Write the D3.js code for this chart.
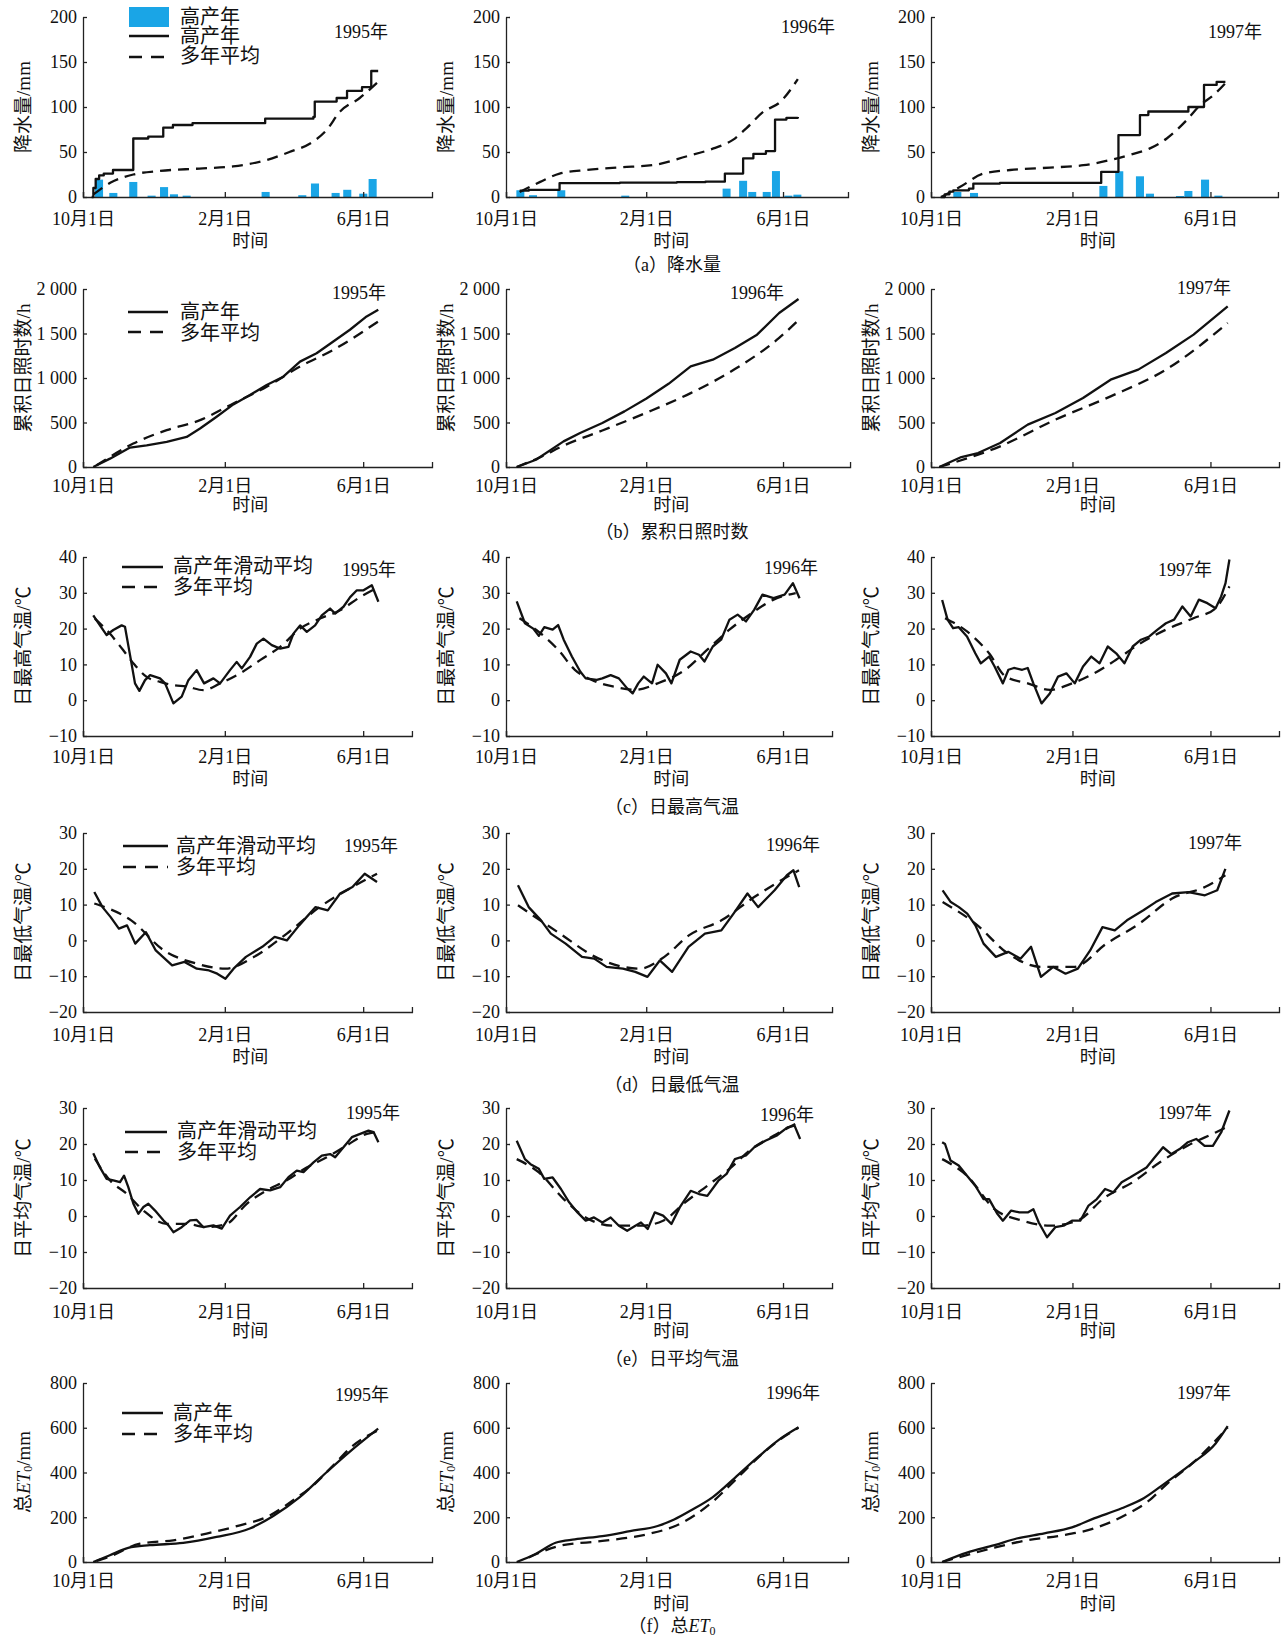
<!DOCTYPE html>
<html><head><meta charset="utf-8">
<script src="https://cdn.jsdelivr.net/npm/d3@7"></script>
<style>
body{margin:0;background:#fff}
svg{display:block}
text{font-family:"Liberation Serif","Times New Roman","Noto Sans CJK SC",serif;fill:#111}
</style>
</head><body>
<svg id="c" width="1285" height="1645"></svg>
<script>
// ---------- categories / tick labels ----------
const monthTickDays = [0, 123, 243];            // days after 10月1日
const monthTickLabels = ["10月1日", "2月1日", "6月1日"];
const years = ["1995年", "1996年", "1997年"];
const yTicksPrecip = [0, 50, 100, 150, 200];
const yTicksSun = [0, 500, 1000, 1500, 2000];
const yTicksTmax = [-10, 0, 10, 20, 30, 40];
const yTicksTmin = [-20, -10, 0, 10, 20, 30];
const yTicksTavg = [-20, -10, 0, 10, 20, 30];
const yTicksEt = [0, 200, 400, 600, 800];
const yLabels = ["降水量/mm", "累积日照时数/h", "日最高气温/℃", "日最低气温/℃", "日平均气温/℃", "总ET0/mm"];
const captions = ["（a）降水量", "（b）累积日照时数", "（c）日最高气温", "（d）日最低气温", "（e）日平均气温", "（f）总ET0"];
const xTitle = "时间";

// ---------- (a) precipitation: [day, mm] ----------
const precipBars1995 = [[13.9,19.3],[26.3,4.5],[43.6,16.7],[59.5,1.5],[70.3,11],[78.9,3],[89.9,1.5],[158.4,5.6],[190.2,2],[201.2,15],[219.1,4.5],[229.2,8],[243.1,3.7],[251.2,20]];
const precipCum1995 = [[7.5,0],[9,10],[11,20],[14,24],[18,26],[26,30],[43.6,65],[56.6,67],[69.6,77],[78,80],[95,82],[158,87],[199.8,89],[201,106],[220,110],[229,118],[242,122],[250,140],[256,140]];
const precipAvg1995 = [[9,3],[24,16],[43.6,25],[66.7,29],[101,31.6],[130,34],[159,41],[179,50],[197,59.5],[211,74],[223,95],[240,110],[256,128]];
const precipBars1996 = [[12.6,7.5],[23.7,2],[48.5,7.5],[104.6,1.5],[193.5,9.3],[208,18],[216,5.6],[228.7,5.6],[236.8,28.8],[247.7,1.5],[255.6,2.6]];
const precipCum1996 = [[12,7],[20,8],[47,15.5],[100,16],[150,16.5],[175,17],[192,26],[208,43],[217,48],[228,51],[236,86],[246,88],[256,89]];
const precipAvg1996 = [[12,5.6],[30,16.8],[47,26],[71,30],[100,33],[129,35.5],[158,45],[182,54],[199,63.5],[211,76.6],[226,95],[240,105],[256,131]];
const precipBars1997 = [[22.9,5.6],[37.4,4.5],[149.9,12.3],[163.7,28.6],[181.7,23],[190.4,3.7],[216.5,1.1],[223.8,6.7],[238.3,19.3],[249.9,1.5]];
const precipCum1997 = [[8.4,0],[12,3],[16,6],[19.4,7.4],[33,9.3],[36.8,14.9],[60,15.6],[148,28],[163,68.8],[181.7,91],[189,95],[223.8,100],[237.4,124.5],[248.4,128],[256,128]];
const precipAvg1997 = [[9,0],[25,11],[45.6,26],[68.8,30],[103.5,32.7],[132.5,35.3],[155.7,41],[176,48],[190.4,54],[205,65],[222.4,85.5],[234,102],[245.5,113],[257,128]];

// ---------- (b) cumulative sunshine hours ----------
const sunHigh1995 = [[8.9,0],[23.4,94],[40.8,218],[55.2,244],[72.6,282],[89.9,338],[101.5,432],[115.9,564],[130.4,703],[144.8,808],[159.3,921],[173.7,1015],[188.2,1184],[202.6,1278],[217.1,1410],[231.5,1542],[246,1692],[256.1,1767]];
const sunAvg1995 = [[11.8,19],[43.6,263],[72.6,414],[101.5,526],[130.4,714],[159.3,902],[188.2,1128],[217.1,1316],[256.1,1636]];
const sunHigh1996 = [[9.4,0],[26.3,82],[50.5,288],[65,382],[84.5,494],[103.9,625],[123.2,770],[142.6,935],[162,1131],[181.4,1206],[200.8,1337],[220.2,1487],[239.6,1730],[256.6,1887]];
const sunAvg1996 = [[9.4,0],[30,110],[50.5,240],[84.5,410],[123.2,610],[162,830],[200.8,1100],[239.6,1450],[256.6,1650]];
const sunHigh1997 = [[7.2,0],[26.4,112],[40.9,157],[60.1,270],[84.1,476],[108.2,607],[132.2,775],[156.2,981],[180.2,1094],[204.3,1281],[228.3,1487],[258,1805]];
const sunAvg1997 = [[7.2,0],[60.1,232],[108.2,532],[156.2,794],[204.3,1094],[258,1618]];

// ---------- (c) daily max temperature ----------
const tmaxHigh1995 = [[8.9,23.7],[14.7,20.9],[20.5,18.2],[26.3,19.6],[33.5,20.9],[36.4,20.5],[40.8,12.6],[45.1,4.7],[48.9,2.6],[53.8,5.6],[58.2,7],[66.8,6.1],[71.2,4.7],[78.4,-0.9],[85.6,1],[91.4,5.6],[98.6,8.4],[105,4.7],[113.1,6.1],[118.9,4.7],[127.5,8.4],[133.3,10.7],[137.7,8.9],[144.9,12.1],[150.7,15.8],[156.5,17.2],[163.7,15.4],[171,14.4],[178.2,14.9],[182.5,18.6],[188.3,20.9],[194.1,19.1],[201.3,20.9],[207.1,23.7],[214.3,25.6],[218.7,24.2],[225.9,26.1],[231.7,28.8],[237.5,30.7],[243.3,30.7],[250.5,32.1],[256.2,27.5]];
const tmaxAvg1995 = [[10.3,22.8],[23.3,18.6],[34.8,14],[45,9.8],[55.2,6.5],[66.8,5.1],[78.4,4.2],[89.9,3.8],[104.4,2.8],[118.9,4.7],[136.2,7.5],[153.6,11.2],[171,14.9],[188.3,20],[205.6,22.8],[223,25.1],[240.3,28.8],[256.2,31.6]];
const tmaxHigh1996 = [[9.4,27.6],[16.6,21.5],[23.9,20],[28.8,18],[33.6,20.4],[40.9,19.7],[45.7,21],[50.6,16.9],[57.8,12.2],[65.1,8],[69.9,6.1],[79.6,5.7],[84.5,6.1],[91.8,7],[99,6.1],[106.3,3.3],[111.1,1.9],[116,4.7],[120.9,6.6],[128.1,4.7],[133,9.9],[140.3,7.5],[145.1,4.7],[152.4,11.3],[162,13.6],[169.3,12.7],[174.1,10.8],[181.4,15],[188.7,16.9],[196,22.5],[203.2,23.9],[210.5,22],[217.8,25.3],[225,29.5],[234.7,28.5],[244.4,29.5],[251.7,32.7],[257.5,28.5]];
const tmaxAvg1996 = [[11.8,22.9],[26.3,19.7],[45.7,14.1],[60.4,8.5],[74.9,5.7],[94.2,3.8],[113.5,2.9],[133,4.7],[157.2,8.5],[176.6,14.1],[196,19.7],[215.4,24.3],[234.7,28.1],[254.1,29.9]];
const tmaxHigh1997 = [[9.7,28],[14.4,22.5],[19.2,20.1],[24.1,20.4],[31.3,17.8],[38.5,13.1],[43.3,10.3],[50.5,12.2],[55.3,9.4],[62.5,4.7],[67.3,8.5],[72.1,9],[79.3,8.5],[84.1,9],[89,4.7],[96.1,-0.9],[103.3,1.9],[110.5,6.6],[117.7,7.5],[125,4.7],[132.2,9.4],[139.4,12.2],[146.6,10.3],[153.7,15],[161,13.1],[168.2,10.3],[175.4,15],[182.6,16.9],[189.8,17.8],[197,19.7],[204.3,21.5],[211.4,22.5],[218.6,26.2],[225.8,23.4],[233,28.1],[240.3,27.1],[247.5,25.7],[252.3,29],[256.1,32.7],[259.5,39.3]];
const tmaxAvg1997 = [[12.2,22.9],[31.3,19.2],[50.5,13.1],[64.9,6.6],[84.1,4.7],[103.3,2.9],[122.6,4.7],[141.8,7.5],[161,11.3],[180.2,15.5],[204.3,19.7],[228.2,22.9],[247.5,25.7],[259.5,31.8]];

// ---------- (d) daily min temperature ----------
const tminHigh1995 = [[9.8,13.5],[16.9,9.3],[24,6.5],[31.1,3.3],[38.2,4.2],[45.3,-0.9],[54.5,2.3],[63.1,-2.8],[77.3,-7],[88,-6],[98.7,-7.9],[109.3,-8.4],[116.4,-9.3],[123.5,-10.7],[130.6,-7.9],[141.3,-4.6],[155.5,-1.8],[166.2,1],[176.8,0],[187.5,4.2],[201.7,9.3],[212.3,8.4],[223,13.1],[233.7,14.9],[244.3,18.6],[255,16.3]];
const tminAvg1995 = [[9.8,10.3],[41.8,5.6],[70.2,-2.8],[98.7,-6.5],[123.5,-7.9],[148.4,-4.6],[176.8,1.9],[205.2,9.3],[233.7,14.9],[255,18.6]];
const tminHigh1996 = [[10.5,15.4],[19.9,9.3],[30.7,5.6],[39.3,1.9],[52.3,-0.9],[66.7,-4.6],[77.4,-5.1],[88.2,-7.4],[102.6,-7.9],[113.4,-8.8],[124.1,-10.2],[134.9,-5.6],[145.7,-8.8],[160.1,-1.8],[174.5,1.9],[188.9,2.8],[199.6,7.5],[211.8,13.1],[221.2,9.3],[235.6,14],[246.4,18.2],[252.1,19.6],[257.2,14.9]];
const tminAvg1996 = [[10.5,9.8],[45.4,2.3],[81.4,-5.1],[117.3,-7.9],[138.9,-4.6],[160.4,1.4],[189,5.6],[217.8,12.1],[246.4,17.7],[257,19.6]];
const tminHigh1997 = [[10.1,14],[17.2,10.7],[24.3,9.3],[31.5,7.5],[38.6,4.2],[45.7,-0.9],[56.4,-4.6],[67.1,-3.2],[77.8,-5.1],[87,-1.8],[95.6,-10.2],[106.3,-7.4],[117,-9.3],[127.7,-7.9],[138.4,-2.8],[149.1,3.7],[159.8,2.8],[170.4,5.6],[184.7,8.4],[195.4,10.7],[209.7,13.1],[223.9,13.5],[238.2,12.6],[248.9,14],[256,20]];
const tminAvg1997 = [[10.1,10.7],[38.6,4.7],[67.1,-3.7],[95.6,-7.4],[124.1,-7.4],[152.6,-0.9],[181.2,4.7],[209.7,11.7],[238.2,14.9],[256,18.2]];

// ---------- (e) daily mean temperature ----------
const tavgHigh1995 = [[8.9,17.4],[14.7,13.5],[20.5,10.3],[26.3,9.9],[32.1,9.4],[35.6,11.2],[39.3,8],[43.7,3.4],[48,0.6],[52.4,2.5],[56.7,3.4],[62.5,1.5],[69.7,-1.2],[74.1,-2.6],[78.4,-4.5],[85.6,-3.1],[92.9,-1.2],[98.6,-1.1],[104.4,-3.1],[113.1,-2.6],[120.3,-3.5],[127.5,0.1],[136.2,2.5],[144.9,5.2],[153.6,7.5],[162.3,7.1],[171,8],[178.2,10.8],[185.4,12.6],[191.2,12.2],[199.9,14.9],[207.1,16.8],[214.3,17.2],[218.7,16.3],[225.9,19.1],[233.2,21.9],[240.4,22.8],[247.6,23.7],[252,23.3],[256.2,20.5]];
const tavgAvg1995 = [[10.3,15.9],[23.3,9.9],[37.8,6.2],[52.4,1.5],[72.6,-2.2],[89.9,-2.2],[107.3,-3.1],[124.6,-2.2],[142,3.4],[159.3,7.1],[176.7,9.9],[194,13.5],[211.4,16.3],[228.7,19.6],[246.1,22.8],[254.7,23.3]];
const tavgHigh1996 = [[9.4,20.9],[16.6,15.8],[21.5,14.4],[28.8,13.1],[33.6,10.3],[40.9,10.7],[48.2,7.5],[55.4,3.8],[62.7,1],[69.9,-1.3],[77.2,-0.4],[84.5,-1.8],[91.8,-0.4],[99,-2.7],[106.3,-4.1],[113.5,-2.7],[118.4,-1.8],[124.3,-3.6],[130.5,1],[137.8,0.1],[145.1,-2.2],[152.4,2.4],[162,7],[169.3,6.1],[176.6,5.6],[186.3,9.8],[193.5,11.7],[200.8,15.8],[210.5,16.8],[217.8,19.1],[227.5,20.9],[237.2,22.3],[246.9,24.6],[253.1,25.1],[258,21.4]];
const tavgAvg1996 = [[9.4,15.8],[28.8,12.1],[50.6,4.7],[69.9,-0.4],[94.2,-2.7],[118.4,-2.7],[137.8,-1.3],[157.2,3.8],[176.6,8.4],[196,13.1],[215.4,18.6],[234.7,22.3],[256.5,26]];
const tavgHigh1997 = [[9.7,20.5],[12.2,20],[17,15.4],[24.1,14],[31.3,11.2],[38.5,8.4],[45.7,4.7],[50.5,4.7],[57.7,0.6],[62.5,-1.3],[69.7,1.5],[76.9,1],[84.1,1],[89,1.9],[93.7,-1.8],[100.9,-5.9],[108.1,-3.1],[115.3,-2.7],[122.6,-1.3],[129.8,-1.3],[137,2.9],[144.2,4.7],[151.4,7.5],[158.6,6.6],[165.8,9.4],[173,10.7],[180.2,12.1],[187.4,13.5],[194.6,16.3],[201.8,19.1],[209,17.2],[216.2,18.6],[223.4,20.5],[230.6,21.4],[237.9,19.5],[245.1,19.5],[252.3,23.2],[259.5,29.3]];
const tavgAvg1997 = [[9.7,15.8],[31.3,11.2],[55.3,1.9],[79.3,-1.3],[103.3,-2.7],[127.4,-1.3],[151.4,5.2],[175.4,9.4],[199.4,15],[223.4,19.6],[247.5,23.2],[259.5,25.1]];

// ---------- (f) cumulative ET0 ----------
const etHigh1995 = [[8.9,0],[23.3,30],[39.2,63],[58,75],[86.9,85],[115.8,112],[144.7,150],[165,206],[188,290],[211,400],[233,500],[256,596]];
const etAvg1995 = [[12,5],[22,22],[49.4,82],[78.3,97],[107.2,127],[136.1,164],[159.2,201],[182.3,276],[199.7,343],[217.1,432],[234.4,521],[256.1,589]];
const etHigh1996 = [[9.4,0],[26.3,37],[43.5,86],[60.4,101],[84.5,116],[108.8,138],[133,161],[147.5,190],[162,230],[181.4,290],[200.8,376],[220.2,465],[239.6,547],[256.6,602]];
const etAvg1996 = [[20,20],[46,71],[84.5,94],[123.2,123],[152.4,170],[181.4,270],[200.8,365],[220.2,462],[239.6,545],[256.6,600]];
const etHigh1997 = [[9.7,0],[31.3,42],[55.3,75],[74.5,105],[98.5,128],[122.6,155],[141.8,195],[165.8,240],[185,285],[204.3,355],[228.2,445],[247.5,530],[258,607]];
const etAvg1997 = [[9.7,0],[55.3,64],[84.1,98],[113,118],[141.8,150],[170.6,214],[189.8,275],[204.3,345],[228.2,445],[258,600]];

// ---------- tables built from the arrays ----------
const rowSeries = [
  {high:[precipCum1995,precipCum1996,precipCum1997], avg:[precipAvg1995,precipAvg1996,precipAvg1997], bars:[precipBars1995,precipBars1996,precipBars1997], ticks:yTicksPrecip, dom:[0,200], curve:d3.curveStepAfter, legend:["高产年","多年平均"]},
  {high:[sunHigh1995,sunHigh1996,sunHigh1997], avg:[sunAvg1995,sunAvg1996,sunAvg1997], ticks:yTicksSun, dom:[0,2000], curve:d3.curveLinear, legend:["高产年","多年平均"]},
  {high:[tmaxHigh1995,tmaxHigh1996,tmaxHigh1997], avg:[tmaxAvg1995,tmaxAvg1996,tmaxAvg1997], ticks:yTicksTmax, dom:[-10,40], curve:d3.curveLinear, legend:["高产年滑动平均","多年平均"]},
  {high:[tminHigh1995,tminHigh1996,tminHigh1997], avg:[tminAvg1995,tminAvg1996,tminAvg1997], ticks:yTicksTmin, dom:[-20,30], curve:d3.curveLinear, legend:["高产年滑动平均","多年平均"]},
  {high:[tavgHigh1995,tavgHigh1996,tavgHigh1997], avg:[tavgAvg1995,tavgAvg1996,tavgAvg1997], ticks:yTicksTavg, dom:[-20,30], curve:d3.curveLinear, legend:["高产年滑动平均","多年平均"]},
  {high:[etHigh1995,etHigh1996,etHigh1997], avg:[etAvg1995,etAvg1996,etAvg1997], ticks:yTicksEt, dom:[0,800], curve:d3.curveMonotoneX, legend:["高产年","多年平均"]}
];

// ---------- layout ----------
const colX0 = [83, 506, 931];
const colPx = [1.153, 1.14, 1.15];
const rowLayout = [
  {top:17,  bottom:197,  end:[302.7,300,301.7], tp:15, tl:44, cap:265, ylc:107, year:[[361,32],[808,27],[1235,32]],   leg:{x1:129,x2:169,y:[36,57],tx:180,ty:[36,56]}},
  {top:289, bottom:467,  end:[302.7,301.8,302.6], tp:12, tl:38, cap:532, ylc:368, year:[[359,293],[757,293],[1204,288]], leg:{x1:128,x2:168,y:[312,332],tx:180,ty:[312,333]}},
  {top:557, bottom:736,  end:[285.3,286,302.6], tp:14, tl:43, cap:807, ylc:646,  year:[[369,570],[791,568],[1185,570]], leg:{x1:122,x2:163,y:[567,587],tx:173,ty:[566,587]}},
  {top:833, bottom:1012, end:[285.3,286,302.6], tp:16, tl:45, cap:1085, ylc:922, year:[[371,846],[793,845],[1215,843]], leg:{x1:123,x2:168,y:[846,867],tx:176,ty:[846,867]}},
  {top:1108,bottom:1288, end:[285.3,286,302.6], tp:17, tl:43, cap:1359, ylc:1198, year:[[373,1113],[787,1115],[1185,1113]], leg:{x1:125,x2:167,y:[1132,1152],tx:177,ty:[1131,1152]}},
  {top:1383,bottom:1562, end:[302.7,300,302.6], tp:12, tl:42, cap:1626, ylc:1472, year:[[362,1395],[793,1393],[1204,1393]], leg:{x1:122,x2:163,y:[1413,1434],tx:173,ty:[1413,1434]}}
];

const svg = d3.select("#c");
const BLUE = "#1aa5e6";
const fmtY = d => Math.abs(d) >= 1000 ? d3.format(",")(d).replace(",", " ") : d3.format("")(d);

rowSeries.forEach((R, r) => {
  const L = rowLayout[r];
  for (let c = 0; c < 3; c++) {
    const x = d3.scaleLinear().domain([0, L.end[c]]).range([colX0[c], colX0[c] + L.end[c]*colPx[c]]);
    const y = d3.scaleLinear().domain(R.dom).range([L.bottom, L.top]);
    const g = svg.append("g");

    // bars
    if (R.bars) {
      g.selectAll("rect.bar").data(R.bars[c]).join("rect")
        .attr("x", d => x(d[0] - 3.5)).attr("width", x(7) - x(0))
        .attr("y", d => y(d[1])).attr("height", d => y(0) - y(d[1]))
        .attr("fill", BLUE);
    }

    // axes
    const ax = g.append("g").attr("transform", `translate(0,${L.bottom})`)
      .call(d3.axisBottom(x).tickValues(monthTickDays).tickFormat((d,i) => monthTickLabels[i])
        .tickSize(-5).tickSizeOuter(-5).tickPadding(L.tp));
    const ay = g.append("g").attr("transform", `translate(${x(0)},0)`)
      .call(d3.axisLeft(y).tickValues(R.ticks).tickFormat(fmtY).tickSize(-4).tickSizeOuter(0).tickPadding(6));
    [ax, ay].forEach(a => {
      a.attr("font-family", null).attr("font-size", null);
      a.selectAll("path,line").attr("stroke", "#222").attr("stroke-width", 1.3);
      a.selectAll("text").style("font-size", "18px").attr("fill", "#111");
    });

    // lines
    const line = d3.line().x(d => x(d[0])).y(d => y(d[1]));
    g.append("path").datum(R.avg[c]).attr("d", line.curve(d3.curveMonotoneX))
      .attr("fill", "none").attr("stroke", "#111").attr("stroke-width", 2.3).attr("stroke-dasharray", "11,7");
    g.append("path").datum(R.high[c]).attr("d", line.curve(R.curve))
      .attr("fill", "none").attr("stroke", "#111").attr("stroke-width", 2.3).attr("stroke-linejoin", "round");

    // x title
    g.append("text").attr("x", x(145)).attr("y", L.bottom + L.tl).attr("text-anchor", "middle")
      .attr("dominant-baseline", "central").style("font-size", "18px").text(xTitle);

    // y title
    const yt = g.append("text").attr("transform", `translate(${x(0) - 60},${L.ylc}) rotate(-90)`)
      .attr("text-anchor", "middle").attr("dominant-baseline", "central").style("font-size", "19px");
    if (r === 5) {
      yt.append("tspan").text("总");
      yt.append("tspan").style("font-style", "italic").text("ET");
      yt.append("tspan").attr("dy", 5).style("font-size", "12px").text("0");
      yt.append("tspan").attr("dy", -5).text("/mm");
    } else yt.text(yLabels[r]);

    // year label
    g.append("text").attr("x", L.year[c][0]).attr("y", L.year[c][1]).attr("text-anchor", "middle")
      .attr("dominant-baseline", "central").style("font-size", "18px").text(years[c]);

    // legend (first column only)
    if (c === 0) {
      const lg = svg.append("g");
      if (R.bars) {
        lg.append("rect").attr("x", L.leg.x1).attr("y", 7).attr("width", L.leg.x2 - L.leg.x1).attr("height", 20).attr("fill", BLUE);
        lg.append("text").attr("x", L.leg.tx).attr("y", 17).attr("dominant-baseline", "central").style("font-size", "20px").text(R.legend[0]);
      }
      R.legend.forEach((t, i) => {
        lg.append("line").attr("x1", L.leg.x1).attr("x2", L.leg.x2).attr("y1", L.leg.y[i]).attr("y2", L.leg.y[i])
          .attr("stroke", "#111").attr("stroke-width", 2.5).attr("stroke-dasharray", i === 1 ? "13,9" : null);
        lg.append("text").attr("x", L.leg.tx).attr("y", L.leg.ty[i]).attr("dominant-baseline", "central")
          .style("font-size", "20px").text(t);
      });
    }
  }

  // caption
  const cap = svg.append("text").attr("x", 672).attr("y", L.cap).attr("text-anchor", "middle")
    .attr("dominant-baseline", "central").style("font-size", "18px");
  if (r === 5) {
    cap.append("tspan").text("（f）总");
    cap.append("tspan").style("font-style", "italic").text("ET");
    cap.append("tspan").attr("dy", 5).style("font-size", "12px").text("0");
  } else cap.text(captions[r]);
});
</script>
</body></html>
